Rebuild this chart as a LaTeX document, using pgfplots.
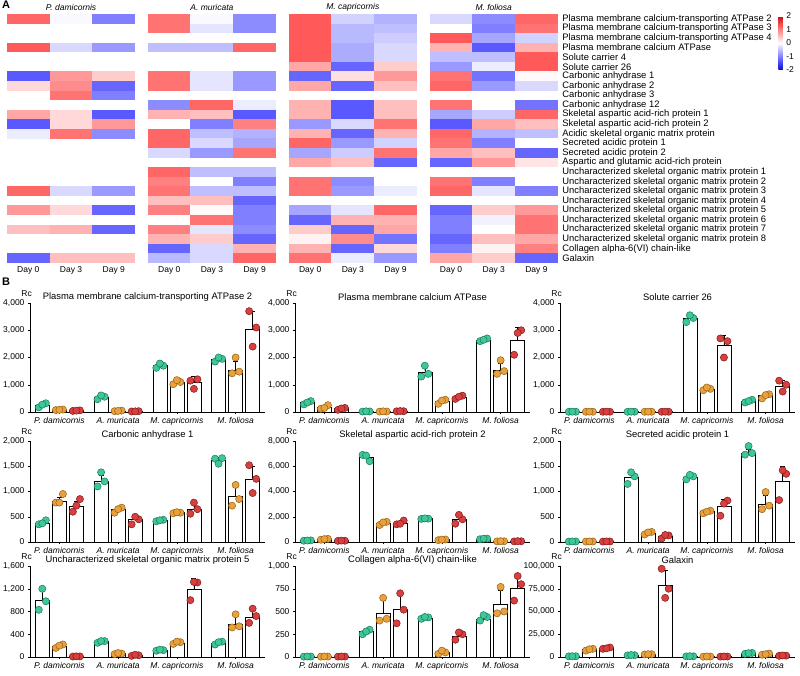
\documentclass[border=0pt]{standalone}
\usepackage{fontspec}
\setmainfont{Liberation Sans}
\usepackage{pgfplots}
\usepackage{pgfplotstable}
\pgfplotsset{compat=1.18}

\definecolor{dGreen}{RGB}{62,200,150}
\definecolor{dGreenE}{RGB}{25,120,90}
\definecolor{dOrange}{RGB}{232,161,60}
\definecolor{dOrangeE}{RGB}{150,95,20}
\definecolor{dRed}{RGB}{214,64,62}
\definecolor{dRedE}{RGB}{130,25,25}

\newcommand\hmfont{\fontsize{9.4}{10}\selectfont}
\newcommand\dayfont{\fontsize{8.5}{9}\selectfont}
\newcommand\tkfont{\fontsize{8.5}{9}\selectfont}
\newcommand\spfont{\fontsize{8.5}{9}\selectfont\itshape}

% one heatmap cell, 42.7 x 9.58 px
\pgfdeclareplotmark{cell}{%
  \pgfpathrectanglecorners{\pgfpoint{-21.5pt}{-4.85pt}}{\pgfpoint{21.5pt}{4.85pt}}%
  \pgfusepathqfill}

\pgfplotsset{
  bar axis/.style={
    anchor=south west, scale only axis, width=235pt,
    xmin=-0.5, xmax=3.5, ymin=0,
    axis lines=left, axis line style={-, line width=0.5pt},
    xtick={0,1,2,3},
    xticklabels={P. damicornis,A. muricata,M. capricornis,M. foliosa},
    xticklabel style={font=\spfont},
    yticklabel style={font=\tkfont},
    tick align=outside, major tick length=2pt,
    tick style={black, line width=0.5pt},
    scaled y ticks=false,
    /pgf/number format/fixed,
    /pgf/number format/1000 sep={,},
    /pgf/number format/assume math mode=true,
    title style={font=\hmfont, at={(0.5,1)}, anchor=center},
    clip=false,
  },
  bars/.style={ybar, bar width=0.24, bar shift=0pt, fill=white, draw=black,
    line width=0.5pt,
    error bars/y dir=plus, error bars/y explicit,
    error bars/error bar style={black, line width=0.5pt},
    error bars/error mark options={rotate=90, mark size=2.5pt, black, line width=0.5pt}},
  dots/.style={scatter, only marks, point meta=explicit symbolic,
    scatter/classes={0={mark=*, fill=dGreen, draw=dGreenE},
                     1={mark=*, fill=dOrange, draw=dOrangeE},
                     2={mark=*, fill=dRed, draw=dRedE}},
    mark size=3.6pt, line width=0.5pt},
}

% #1 left (px), #2 bottom (px from top), #3 height, #4 ymax, #5 yticks, #6 title, #7 table
\newcommand\barpanel[7]{%
\begin{axis}[bar axis, at={(#1pt,-#2pt)}, height=#3pt, ymax=#4, ytick={#5}, title={#6}]
  \addplot[bars] table[x expr=\thisrow{g}+0.29*\thisrow{d}-0.29, y=m, y error=e]{#7};
  \addplot[dots] table[x expr=\thisrow{g}+0.29*\thisrow{d}-0.35, y=a, meta=d]{#7};
  \addplot[dots] table[x expr=\thisrow{g}+0.29*\thisrow{d}-0.23, y=b, meta=d]{#7};
  \addplot[dots] table[x expr=\thisrow{g}+0.29*\thisrow{d}-0.29, y=c, meta=d]{#7};
  \node[anchor=south east, font=\tkfont, inner sep=0pt] at ([xshift=2pt,yshift=6pt]rel axis cs:0,1) {Rc};
\end{axis}}

% heatmap: row r, species s (0 P.dam, 1 A.mur, 2 M.cap, 3 M.fol), Day 0/3/9
\pgfplotstableread{
r s v0 v1 v2
0 0 1.2 -0.05 -1.0
0 1 1.1 -0.05 -0.9
0 2 1.3 -0.35 -0.6
0 3 -0.3 -0.9 1.2
1 1 1.1 -0.2 -0.9
1 2 1.3 -0.55 -0.5
1 3 0.0 -1.0 1.1
2 2 1.3 -0.55 -0.4
2 3 1.3 -0.7 -0.35
3 0 1.3 -0.3 -0.8
3 1 -0.5 -0.5 1.2
3 2 1.3 -0.65 -0.3
3 3 0.6 -1.3 0.6
4 2 1.3 -0.65 -0.3
4 3 -0.5 -0.5 1.3
5 2 0.7 -1.2 0.4
5 3 -0.8 -0.15 1.3
6 0 -1.3 0.8 0.4
6 1 1.1 -0.2 -0.8
6 2 -1.2 0.25 0.8
6 3 1.1 -1.1 0.05
7 0 0.3 0.9 -1.2
7 1 1.1 -0.2 -0.8
7 2 0.7 -1.2 0.5
7 3 1.2 -0.8 -0.3
8 0 0.0 1.1 -1.0
9 1 -0.9 1.2 -0.15
9 2 0.6 -1.3 0.5
9 3 1.1 0.0 -1.1
10 0 0.7 0.3 -1.3
10 1 0.6 0.5 -1.3
10 2 0.6 -1.3 0.5
10 3 -0.7 -0.4 1.2
11 0 -1.3 0.3 0.8
11 1 0.0 -1.0 1.0
11 2 -0.8 -0.3 1.1
11 3 -1.3 0.7 0.5
12 0 -0.15 1.1 -0.9
12 1 1.2 -0.5 -0.6
12 2 0.6 -1.2 0.6
12 3 1.2 -0.6 -0.5
13 1 1.2 -0.3 -0.7
13 2 1.2 -0.8 -0.35
13 3 1.1 -1.0 0.0
14 1 -0.3 -0.8 1.1
14 2 -0.7 -0.4 1.1
14 3 0.7 0.5 -1.2
15 2 0.7 0.5 -1.2
15 3 -1.2 0.8 0.2
16 1 1.2 -0.5 -0.5
17 1 1.0 0.0 -1.0
17 2 1.1 -0.9 0.0
17 3 1.1 -1.0 0.0
18 0 1.2 -0.3 -0.8
18 1 1.1 -0.5 -0.5
18 2 1.1 -0.8 -0.15
18 3 1.2 -0.2 -1.0
19 1 0.5 0.5 -1.2
20 0 0.8 0.3 -1.2
20 1 1.0 0.05 -1.0
20 2 -0.7 -0.2 1.2
20 3 -1.2 0.4 0.8
21 1 0.0 1.1 -1.0
21 2 -1.2 0.6 0.6
21 3 -1.0 -0.1 1.1
22 0 0.5 0.6 -1.2
22 1 1.0 -0.2 -0.9
22 2 0.4 -1.2 0.7
22 3 -1.0 0.0 1.1
23 1 0.6 0.4 -1.2
23 2 0.1 0.9 -1.1
23 3 -1.2 0.5 0.7
24 1 -1.2 -0.3 0.6
24 2 0.6 -1.2 0.3
24 3 -1.0 0.1 1.0
25 0 -1.2 0.5 0.5
25 1 -0.55 -0.3 1.2
25 2 1.1 -0.15 -0.8
25 3 0.7 0.4 -1.2
}\heat

% bar tables: species g, day d, mean m, error e, replicates a b c
\pgfplotstableread{
g d m e a b c
0 0 250 80 170 320 270
0 1 80 15 70 90 80
0 2 50 15 40 60 50
1 0 550 70 470 560 610
1 1 40 10 30 50 40
1 2 25 10 20 30 25
2 0 1700 90 1620 1700 1780
2 1 1100 80 1020 1100 1170
2 2 1100 200 1150 1200 850
3 0 1930 80 1850 1950 2000
3 1 1550 300 1420 1480 2000
3 2 3050 650 3700 3100 2400
}\tPMCAii

\pgfplotstableread{
g d m e a b c
0 0 350 70 280 400 350
0 1 180 70 120 250 150
0 2 120 40 80 150 130
1 0 20 10 15 20 25
1 1 20 10 15 20 25
1 2 30 10 25 30 35
2 0 1450 200 1300 1400 1700
2 1 400 80 300 450 420
2 2 550 60 480 600 560
3 0 2650 60 2600 2700 2650
3 1 1550 250 1400 1500 1900
3 2 2650 450 2100 3000 2900
}\tPMCA

\pgfplotstableread{
g d m e a b c
0 0 10 5 8 10 12
0 1 10 5 8 10 12
0 2 10 5 8 10 12
1 0 10 5 8 10 12
1 1 10 5 8 10 12
1 2 10 5 8 10 12
2 0 3450 100 3300 3450 3550
2 1 850 60 800 850 900
2 2 2450 380 2700 2600 2000
3 0 400 60 350 450 400
3 1 600 80 500 650 620
3 2 950 200 1150 1000 750
}\tSC

\pgfplotstableread{
g d m e a b c
0 0 380 40 350 430 370
0 1 800 80 780 950 780
0 2 700 100 600 850 720
1 0 1200 130 1100 1200 1380
1 1 650 50 580 680 650
1 2 450 60 350 450 500
2 0 430 20 410 440 430
2 1 580 10 570 580 590
2 2 650 100 560 650 780
3 0 1620 60 1650 1660 1550
3 1 900 200 720 850 1130
3 2 1250 250 1520 1250 970
}\tCA

\pgfplotstableread{
g d m e a b c
0 0 120 20 100 130 120
0 1 220 40 180 250 230
0 2 100 10 90 100 110
1 0 6700 250 6900 6400 6850
1 1 1500 120 1350 1600 1550
1 2 1500 150 1400 1700 1450
2 0 1850 30 1830 1850 1870
2 1 180 40 150 200 190
2 2 1800 350 1450 1800 2150
3 0 250 40 220 270 260
3 1 60 10 50 60 70
3 2 60 10 50 60 70
}\tSAARP

\pgfplotstableread{
g d m e a b c
0 0 10 5 8 10 12
0 1 10 5 8 10 12
0 2 10 5 8 10 12
1 0 1280 120 1150 1300 1380
1 1 180 30 150 200 190
1 2 110 40 70 130 140
2 0 1280 50 1240 1300 1330
2 1 600 30 570 620 600
2 2 700 150 520 820 760
3 0 1750 90 1730 1760 1900
3 1 750 180 650 720 990
3 2 1200 300 830 1350 1420
}\tSAP

\pgfplotstableread{
g d m e a b c
0 0 1000 180 830 980 1200
0 1 190 30 160 220 200
0 2 10 5 8 10 12
1 0 270 20 250 280 280
1 1 60 10 50 60 70
1 2 30 10 20 30 40
2 0 120 10 110 120 130
2 1 250 20 230 260 270
2 2 1200 180 1000 1310 1320
3 0 250 30 220 270 260
3 1 580 130 520 540 750
3 2 700 130 600 720 850
}\tUSOMP

\pgfplotstableread{
g d m e a b c
0 0 5 2 4 5 6
0 1 5 2 4 5 6
0 2 5 2 4 5 6
1 0 280 30 250 300 280
1 1 480 140 400 420 650
1 2 530 170 370 520 700
2 0 430 10 420 435 440
2 1 50 20 35 50 70
2 2 230 40 190 250 270
3 0 420 30 400 440 460
3 1 580 150 480 500 770
3 2 760 140 620 800 890
}\tCOL

\pgfplotstableread{
g d m e a b c
0 0 800 100 700 800 900
0 1 8000 1000 7000 9000 8500
0 2 9500 800 9000 10500 9500
1 0 2000 200 1800 2000 2200
1 1 3000 300 2800 3100 3100
1 2 79000 16000 97000 75000 65000
2 0 800 100 700 800 900
2 1 500 100 400 500 600
2 2 500 100 400 500 600
3 0 4000 800 3500 4500 4200
3 1 3000 800 2500 3800 3000
3 2 1500 300 1300 1500 1700
}\tGAL

\begin{document}
\begin{tikzpicture}
\useasboundingbox (0pt,0pt) rectangle (800pt,-676pt);
\node[anchor=north west, inner sep=0pt, font=\bfseries\fontsize{11}{11}\selectfont] at (2pt,-1pt) {A};
\node[anchor=north west, inner sep=0pt, font=\bfseries\fontsize{11}{11}\selectfont] at (2pt,-278pt) {B};

\begin{axis}[
  at={(7pt,-14pt)}, anchor=north west,
  scale only axis, width=550.8pt, height=249pt,
  xmin=-0.5, xmax=12.4, ymin=-0.5, ymax=25.5, y dir=reverse,
  axis line style={draw=none}, major tick length=0pt,
  xtick={0,1,2,3.3,4.3,5.3,6.6,7.6,8.6,9.9,10.9,11.9},
  xticklabels={Day 0,Day 3,Day 9,Day 0,Day 3,Day 9,Day 0,Day 3,Day 9,Day 0,Day 3,Day 9},
  xticklabel style={font=\dayfont},
  ytick={0,...,25},
  yticklabels={Plasma membrane calcium-transporting ATPase 2,
    Plasma membrane calcium-transporting ATPase 3,
    Plasma membrane calcium-transporting ATPase 4,
    Plasma membrane calcium ATPase,
    Solute carrier 4,
    Solute carrier 26,
    Carbonic anhydrase 1,
    Carbonic anhydrase 2,
    Carbonic anhydrase 3,
    Carbonic anhydrase 12,
    Skeletal aspartic acid-rich protein 1,
    Skeletal aspartic acid-rich protein 2,
    Acidic skeletal organic matrix protein,
    Secreted acidic protein 1,
    Secreted acidic protein 2,
    Aspartic and glutamic acid-rich protein,
    Uncharacterized skeletal organic matrix protein 1,
    Uncharacterized skeletal organic matrix protein 2,
    Uncharacterized skeletal organic matrix protein 3,
    Uncharacterized skeletal organic matrix protein 4,
    Uncharacterized skeletal organic matrix protein 5,
    Uncharacterized skeletal organic matrix protein 6,
    Uncharacterized skeletal organic matrix protein 7,
    Uncharacterized skeletal organic matrix protein 8,
    Collagen alpha-6(VI) chain-like,
    Galaxin},
  yticklabel pos=right,
  yticklabel style={font=\hmfont, anchor=west, xshift=1pt},
  colormap={bwr}{rgb(0pt)=(0.06,0.06,0.7) rgb(6pt)=(0.3,0.3,1) rgb(20pt)=(1,1,1) rgb(34pt)=(1,0.3,0.3) rgb(40pt)=(0.75,0.05,0.05)},
  point meta min=-2, point meta max=2,
  colorbar,
  colorbar style={
    at={(parent axis.north east)}, anchor=north west,
    xshift=212pt, yshift=-2pt,
    scale only axis, width=4.5pt, height=54pt,
    y dir=normal, xtick=\empty,
    ytick={-2,-1,0,1,2}, yticklabels={-2,-1,0,1,2},
    yticklabel pos=right,
    yticklabel style={font=\dayfont, anchor=west, xshift=0pt},
    axis line style={draw=none}, major tick length=0pt,
  },
  clip=false,
]
\addplot[scatter, only marks, mark=cell, point meta=explicit] table[x expr=\thisrow{s}*3.3, y=r, meta=v0]{\heat};
\addplot[scatter, only marks, mark=cell, point meta=explicit] table[x expr=\thisrow{s}*3.3+1, y=r, meta=v1]{\heat};
\addplot[scatter, only marks, mark=cell, point meta=explicit] table[x expr=\thisrow{s}*3.3+2, y=r, meta=v2]{\heat};
\node[font=\spfont] at ([yshift=7pt]axis cs:1,-0.5) {P. damicornis};
\node[font=\spfont] at ([yshift=7pt]axis cs:4.3,-0.5) {A. muricata};
\node[font=\spfont] at ([yshift=7pt]axis cs:7.6,-0.5) {M. capricornis};
\node[font=\spfont] at ([yshift=7pt]axis cs:10.9,-0.5) {M. foliosa};
\end{axis}

\barpanel{30}{412}{109}{4000}{0,1000,2000,3000,4000}{Plasma membrane calcium-transporting ATPase 2}{\tPMCAii}
\barpanel{295}{412}{109}{4000}{0,1000,2000,3000,4000}{Plasma membrane calcium ATPase}{\tPMCA}
\barpanel{560}{412}{109}{4000}{0,1000,2000,3000,4000}{Solute carrier 26}{\tSC}
\barpanel{30}{542}{101}{2000}{0,500,1000,1500,2000}{Carbonic anhydrase 1}{\tCA}
\barpanel{295}{542}{101}{8000}{0,2000,4000,6000,8000}{Skeletal aspartic acid-rich protein 2}{\tSAARP}
\barpanel{560}{542}{101}{2000}{0,500,1000,1500,2000}{Secreted acidic protein 1}{\tSAP}
\barpanel{30}{657}{91}{1600}{0,400,800,1200,1600}{Uncharacterized skeletal organic matrix protein 5}{\tUSOMP}
\barpanel{295}{657}{91}{1000}{0,250,500,750,1000}{Collagen alpha-6(VI) chain-like}{\tCOL}
\barpanel{560}{657}{91}{100000}{0,25000,50000,75000,100000}{Galaxin}{\tGAL}
\end{tikzpicture}
\end{document}
